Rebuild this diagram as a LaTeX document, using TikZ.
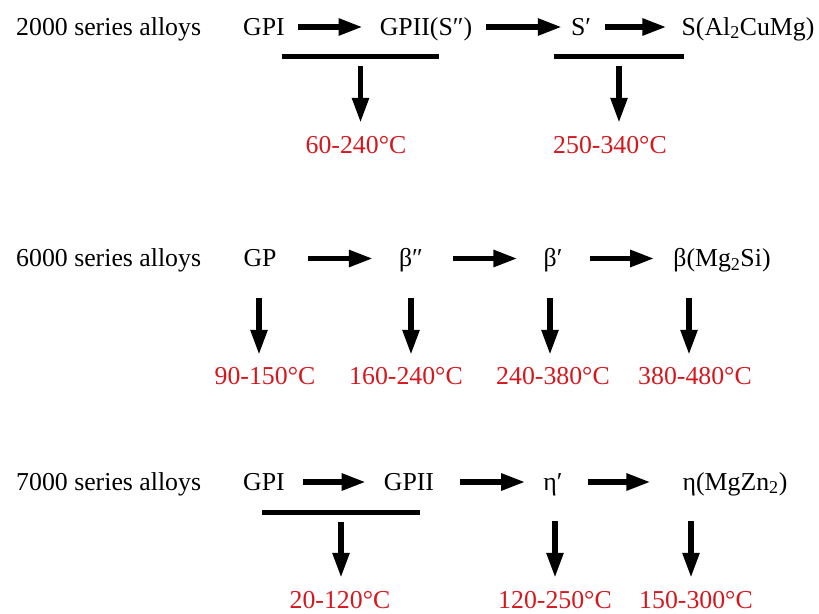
\documentclass[tikz,border=0pt]{standalone}
\usepackage{fontspec}
\setmainfont{Liberation Serif}
\usetikzlibrary{arrows.meta}
\definecolor{tred}{RGB}{212,24,30}
\begin{document}
\begin{tikzpicture}[x=1pt,y=-1pt,
  every node/.style={font=\fontsize{25.8}{30}\selectfont},
  phase/.style={inner sep=0pt, text height=18pt, text depth=2pt, anchor=base},
  temp/.style={inner sep=0pt, text height=19pt, text depth=2pt, anchor=base, text=tred},
  title/.style={inner sep=0pt, anchor=base west},
  bar/.style={fill=black, inner sep=0pt, minimum height=5pt},
  harrow/.style={line width=5.5pt, -{Triangle[length=24pt,width=16pt]}},
  varrow/.style={line width=5.5pt, -{Triangle[length=25pt,width=16pt]}}]
\useasboundingbox (0,0) rectangle (819,613);

% ---------- 2000 series ----------
\node[title] (t1) at (16,35) {2000 series alloys};
\node[phase] (gpi1) at (264,35) {GPI};
\node[phase] (gpii1) at (426,35) {GPII(S″)};
\node[phase] (sp1) at (581,35) {S′};
\node[phase] (s1) at (748,35) {S(Al\textsubscript{2}CuMg)};
\draw[harrow, shorten <=13pt, shorten >=17pt] (gpi1) -- (gpii1);
\draw[harrow, shorten <=14pt, shorten >=9pt] (gpii1) -- (sp1);
\draw[harrow, shorten <=14pt, shorten >=15pt] (sp1) -- (s1);
\node[bar, minimum width=157pt] (bar1) at (360.5,56) {};
\node[bar, minimum width=130pt] (bar2) at (619,56) {};
\node[temp] (l1a) at (356,153) {60-240°C};
\node[temp] (l1b) at (610,153) {250-340°C};
\draw[varrow, shorten <=7.5pt, shorten >=11pt] (bar1) -- (bar1 |- l1a.north);
\draw[varrow, shorten <=7.5pt, shorten >=11pt] (bar2) -- (bar2 |- l1b.north);

% ---------- 6000 series ----------
\node[title] (t2) at (16,266.5) {6000 series alloys};
\node[phase] (gp2) at (260,266.5) {GP};
\node[phase] (bpp2) at (411,266.5) {β″};
\node[phase] (bp2) at (553,266.5) {β′};
\node[phase] (b2) at (722,266.5) {β(Mg\textsubscript{2}Si)};
\draw[harrow, shorten <=31.5pt, shorten >=26pt] (gp2) -- (bpp2);
\draw[harrow, shorten <=30pt, shorten >=26pt] (bpp2) -- (bp2);
\draw[harrow, shorten <=27pt, shorten >=19pt] (bp2) -- (b2);
\node[temp] (l2a) at (265,384) {90-150°C};
\node[temp] (l2b) at (406,384) {160-240°C};
\node[temp] (l2c) at (553,384) {240-380°C};
\node[temp] (l2d) at (695,384) {380-480°C};
\coordinate (d2a) at (259,298);
\coordinate (d2b) at (411,298);
\coordinate (d2c) at (550,298);
\coordinate (d2d) at (689,298);
\draw[varrow, shorten >=10pt] (d2a) -- (d2a |- l2a.north);
\draw[varrow, shorten >=10pt] (d2b) -- (d2b |- l2b.north);
\draw[varrow, shorten >=10pt] (d2c) -- (d2c |- l2c.north);
\draw[varrow, shorten >=10pt] (d2d) -- (d2d |- l2d.north);

% ---------- 7000 series ----------
\node[title] (t3) at (16,490) {7000 series alloys};
\node[phase] (gpi3) at (264,490) {GPI};
\node[phase] (gpii3) at (409,490) {GPII};
\node[phase] (ep3) at (553,490) {η′};
\node[phase] (e3) at (735,490) {η(MgZn\textsubscript{2})};
\draw[harrow, shorten <=18pt, shorten >=18pt] (gpi3) -- (gpii3);
\draw[harrow, shorten <=26pt, shorten >=18pt] (gpii3) -- (ep3);
\draw[harrow, shorten <=25pt, shorten >=32pt] (ep3) -- (e3);
\node[bar, minimum width=158pt] (bar3) at (341,512) {};
\node[temp] (l3a) at (340,608) {20-120°C};
\node[temp] (l3b) at (555,608) {120-250°C};
\node[temp] (l3c) at (696,608) {150-300°C};
\coordinate (d3b) at (555,521);
\coordinate (d3c) at (691,521);
\draw[varrow, shorten <=7pt, shorten >=11pt] (bar3) -- (bar3 |- l3a.north);
\draw[varrow, shorten >=11pt] (d3b) -- (d3b |- l3b.north);
\draw[varrow, shorten >=11pt] (d3c) -- (d3c |- l3c.north);
\end{tikzpicture}
\end{document}
